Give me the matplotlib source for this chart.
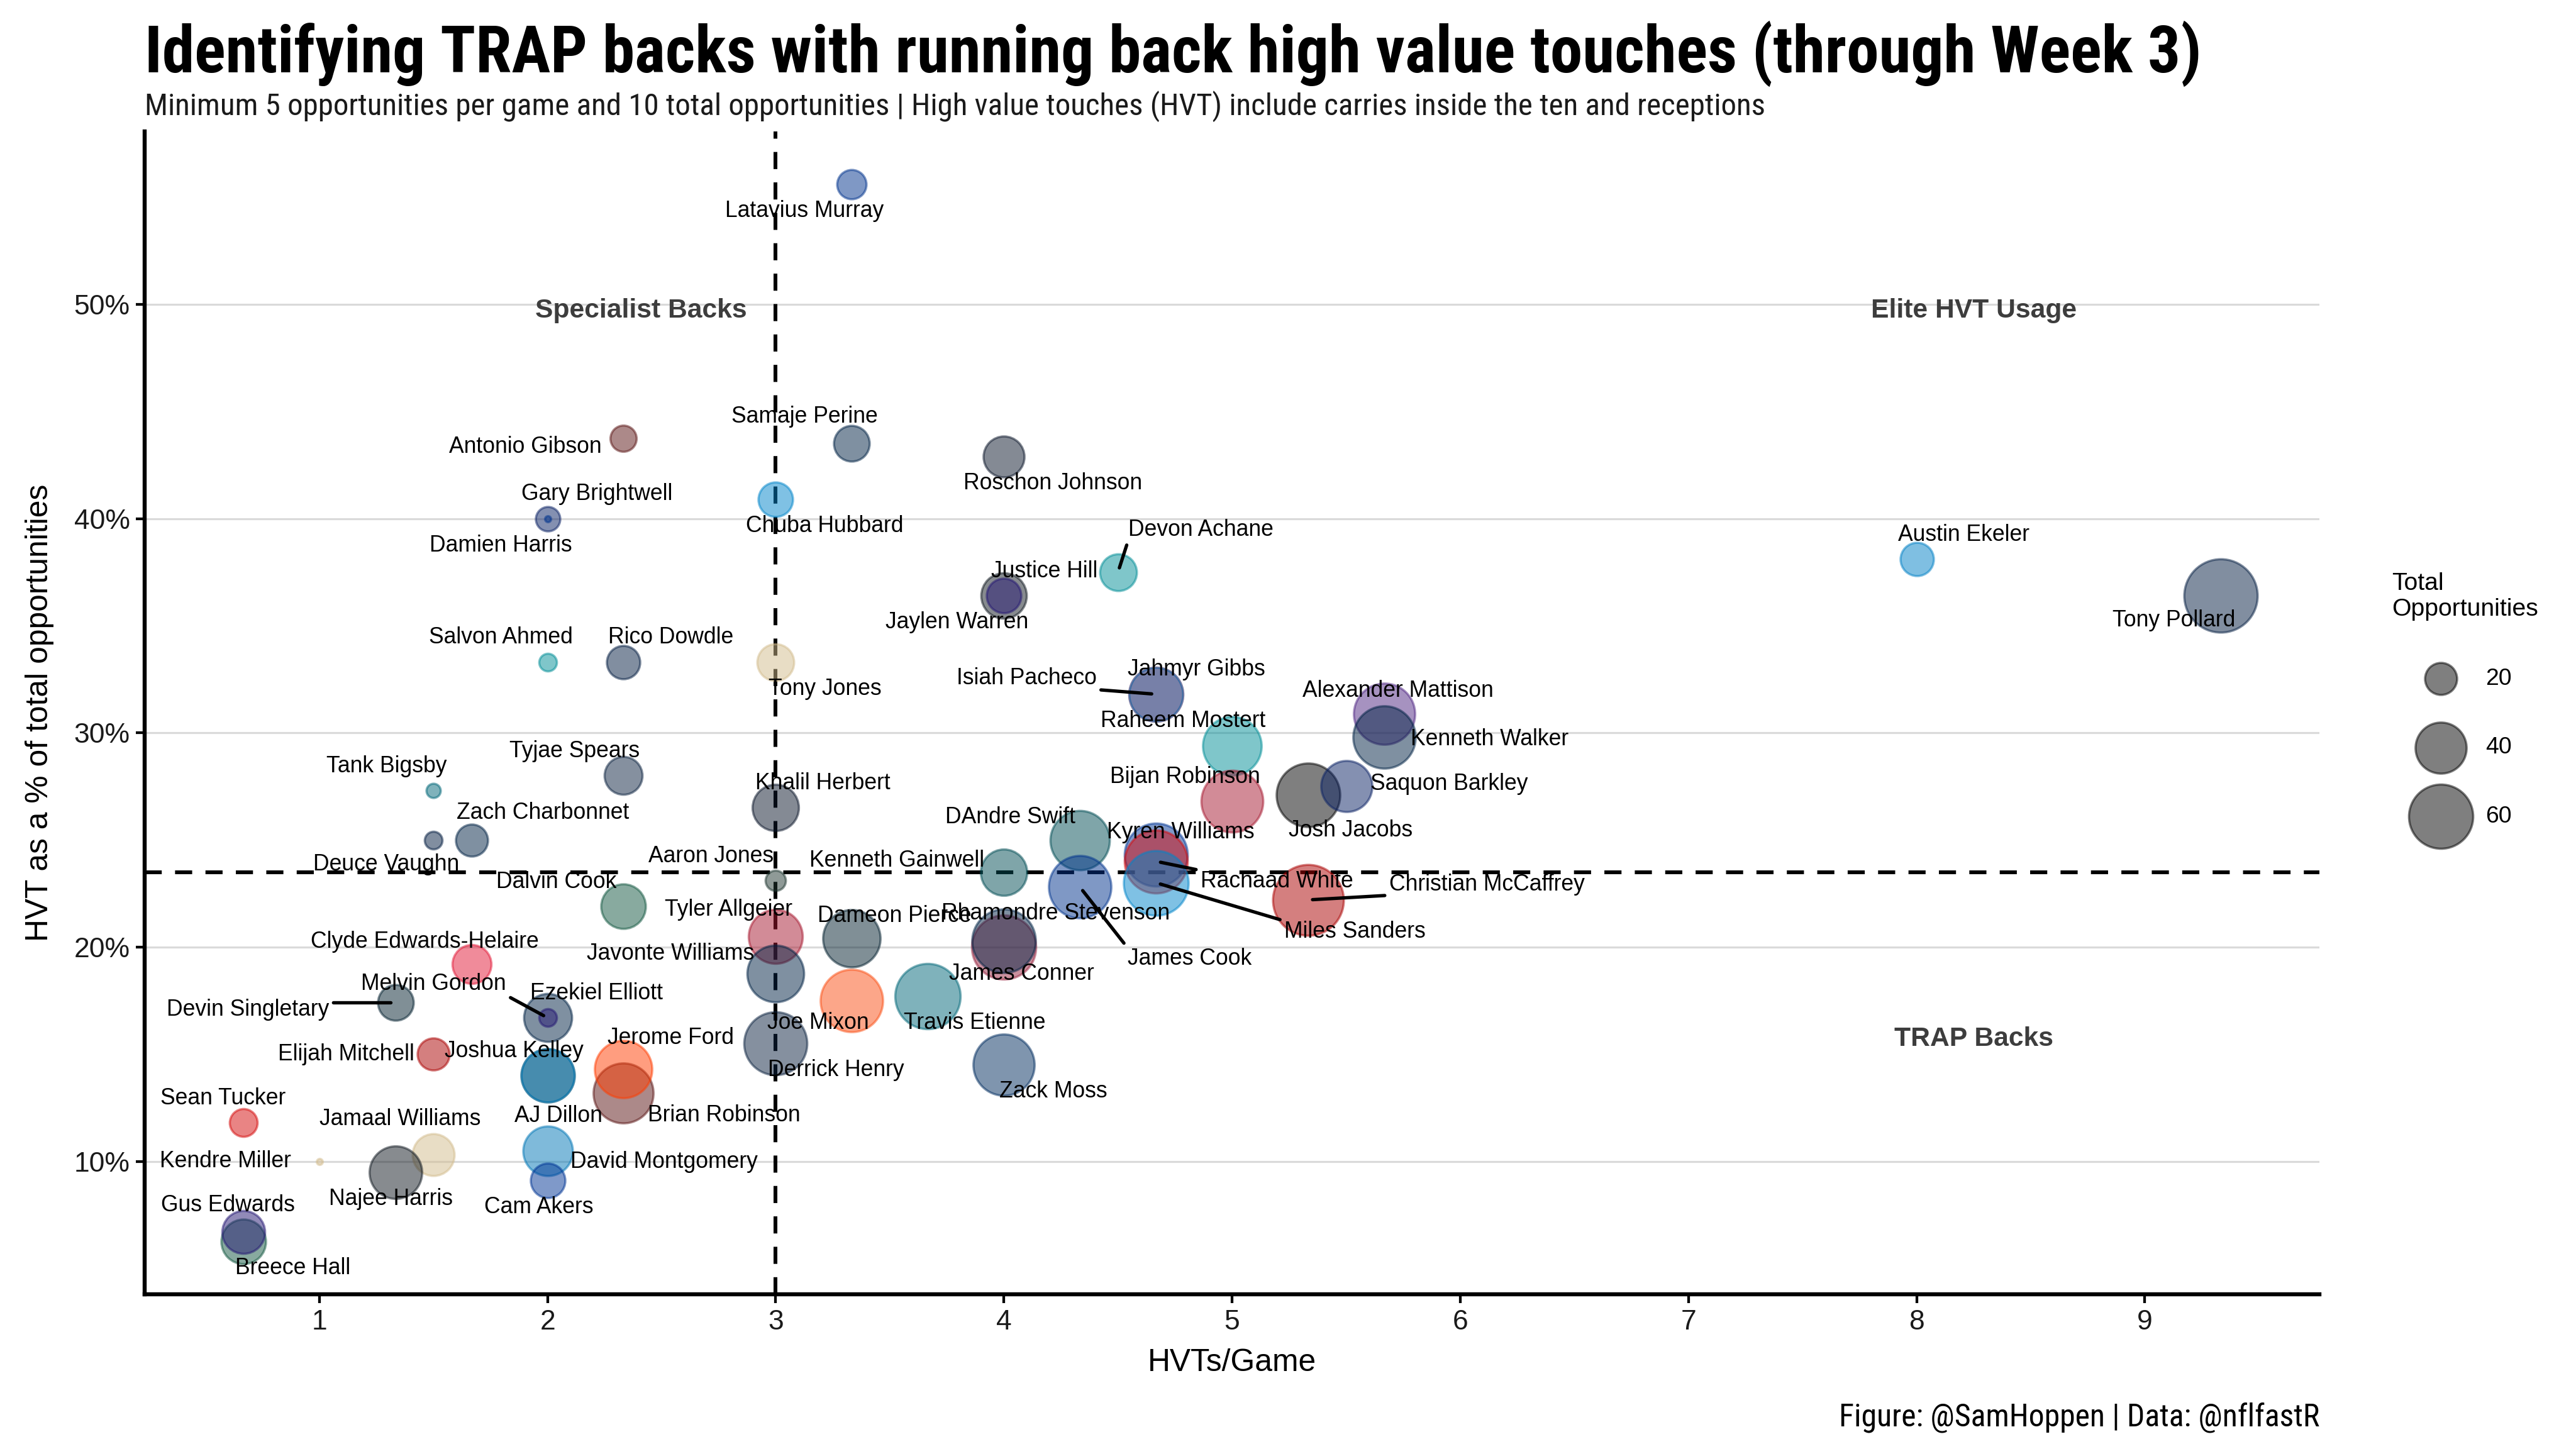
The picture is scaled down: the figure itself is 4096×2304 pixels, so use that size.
# Scatter of running back high value touches (HVT) through week 3
import numpy as np
import matplotlib.pyplot as plt
from matplotlib import font_manager
from matplotlib.text import Text
from matplotlib.ticker import FuncFormatter

# ---- data (drawing order matters for overlapping points) ----
players = [
    "Latavius Murray", "Antonio Gibson", "Samaje Perine", "Roschon Johnson",
    "Gary Brightwell", "Damien Harris", "Chuba Hubbard", "Devon Achane",
    "Jaylen Warren", "Justice Hill", "Austin Ekeler", "Tony Pollard",
    "Salvon Ahmed", "Rico Dowdle", "Tony Jones", "Isiah Pacheco",
    "Jahmyr Gibbs", "Raheem Mostert", "Alexander Mattison", "Kenneth Walker",
    "Josh Jacobs", "Saquon Barkley", "Bijan Robinson", "Tank Bigsby",
    "Tyjae Spears", "Khalil Herbert", "Zach Charbonnet", "Deuce Vaughn",
    "Aaron Jones", "Kenneth Gainwell", "DAndre Swift", "James Cook",
    "Kyren Williams", "Rachaad White", "Miles Sanders", "Christian McCaffrey",
    "Dalvin Cook", "Tyler Allgeier", "Javonte Williams", "Dameon Pierce",
    "James Conner", "Rhamondre Stevenson", "Joe Mixon", "Travis Etienne",
    "Derrick Henry", "Zack Moss", "Clyde Edwards-Helaire", "Devin Singletary",
    "Ezekiel Elliott", "Melvin Gordon", "Elijah Mitchell", "AJ Dillon",
    "Joshua Kelley", "Brian Robinson", "Jerome Ford", "Sean Tucker",
    "Kendre Miller", "Jamaal Williams", "Najee Harris", "David Montgomery",
    "Cam Akers", "Breece Hall", "Gus Edwards",
]
hvt_per_game = [
    3.333, 2.333, 3.333, 4.0,
    2.0, 2.0, 3.0, 4.5,
    4.0, 4.0, 8.0, 9.333,
    2.0, 2.333, 3.0, 4.667,
    4.667, 5.0, 5.667, 5.667,
    5.333, 5.5, 5.0, 1.5,
    2.333, 3.0, 1.667, 1.5,
    3.0, 4.0, 4.333, 4.333,
    4.667, 4.667, 4.667, 5.333,
    2.333, 3.0, 3.0, 3.333,
    4.0, 4.0, 3.333, 3.667,
    3.0, 4.0, 1.667, 1.333,
    2.0, 2.0, 1.5, 2.0,
    2.0, 2.333, 2.333, 0.667,
    1.0, 1.5, 1.333, 2.0,
    2.0, 0.667, 0.667,
]
hvt_pct = [
    0.556, 0.4375, 0.435, 0.429,
    0.400, 0.400, 0.409, 0.375,
    0.364, 0.364, 0.381, 0.364,
    0.333, 0.333, 0.333, 0.318,
    0.318, 0.294, 0.309, 0.298,
    0.271, 0.275, 0.268, 0.273,
    0.280, 0.265, 0.250, 0.250,
    0.231, 0.235, 0.250, 0.228,
    0.243, 0.240, 0.230, 0.222,
    0.219, 0.205, 0.1875, 0.204,
    0.200, 0.203, 0.175, 0.177,
    0.155, 0.145, 0.192, 0.174,
    0.167, 0.167, 0.150, 0.140,
    0.140, 0.132, 0.143, 0.118,
    0.100, 0.103, 0.095, 0.105,
    0.091, 0.0625, 0.067,
]
total_opps = [
    18, 16, 23, 28,
    15, 10, 22, 24,
    33, 22, 21, 77,
    12, 21, 24, 44,
    44, 51, 55, 57,
    59, 40, 56, 11,
    25, 34, 20, 12,
    13, 34, 52, 57,
    58, 58, 61, 72,
    32, 44, 48, 49,
    60, 59, 57, 62,
    58, 55, 26, 23,
    36, 12, 20, 43,
    43, 53, 49, 17,
    10, 29, 42, 38,
    22, 32, 30,
]
teams = [
    "BUF", "WAS", "DEN", "CHI",
    "NYG", "BUF", "CAR", "MIA",
    "PIT", "BAL", "LAC", "DAL",
    "MIA", "DAL", "NO", "KC",
    "DET", "MIA", "MIN", "SEA",
    "LV", "NYG", "ATL", "JAX",
    "TEN", "CHI", "SEA", "DAL",
    "GB", "PHI", "PHI", "BUF",
    "LA", "TB", "CAR", "SF",
    "NYJ", "ATL", "DEN", "HOU",
    "ARI", "NE", "CIN", "JAX",
    "TEN", "IND", "KC", "HOU",
    "NE", "BAL", "SF", "GB",
    "LAC", "WAS", "CLE", "TB",
    "NO", "NO", "PIT", "DET",
    "LA", "NYJ", "BAL",
]
team_colors = {
    "ARI": "#97233F", "ATL": "#A71930", "BAL": "#241773", "BUF": "#00338D",
    "CAR": "#0085CA", "CHI": "#0B162A", "CIN": "#FB4F14", "CLE": "#FF3C00",
    "DAL": "#041E42", "DEN": "#002244", "DET": "#0076B6", "GB": "#203731",
    "HOU": "#03202F", "IND": "#002C5F", "JAX": "#006778", "KC": "#E31837",
    "LA": "#003594", "LAC": "#0080C6", "LV": "#000000", "MIA": "#008E97",
    "MIN": "#4F2683", "NE": "#002244", "NO": "#D3BC8D", "NYG": "#0B2265",
    "NYJ": "#125740", "PHI": "#004C54", "PIT": "#101820", "SEA": "#002244",
    "SF": "#AA0000", "TB": "#D50A0A", "TEN": "#0C2340", "WAS": "#5A1414",
}
legend_opps = [20, 40, 60]
hvt_pg_cut = 3.0
hvt_pct_cut = 0.235

# ---- label layout: offset from the point in points, and leader segment flag ----
label_offsets = {
    "Latavius Murray": (-21, -12), "Antonio Gibson": (-44, -4), "Samaje Perine": (-21, 12),
    "Roschon Johnson": (22, -12), "Gary Brightwell": (22, 11), "Damien Harris": (-21, -12),
    "Chuba Hubbard": (22, -12), "Devon Achane": (37, 19), "Justice Hill": (18, 11),
    "Jaylen Warren": (-21, -12), "Austin Ekeler": (21, 11), "Tony Pollard": (-21, -11),
    "Salvon Ahmed": (-21, 11), "Rico Dowdle": (21, 11), "Tony Jones": (22, -12),
    "Isiah Pacheco": (-58, 7), "Jahmyr Gibbs": (18, 11), "Raheem Mostert": (-22, 11),
    "Alexander Mattison": (6, 10), "Kenneth Walker": (47, -1), "Saquon Barkley": (46, 1),
    "Josh Jacobs": (19, -16), "Bijan Robinson": (-21, 11), "Tank Bigsby": (-21, 11),
    "Tyjae Spears": (-22, 11), "Khalil Herbert": (21, 11), "Zach Charbonnet": (32, 12),
    "Deuce Vaughn": (-21, -11), "Aaron Jones": (-29, 11), "Kenneth Gainwell": (-48, 5),
    "DAndre Swift": (-31, 10), "James Cook": (49, -32), "Kyren Williams": (11, 10),
    "Rachaad White": (54, -9), "Miles Sanders": (89, -22), "Christian McCaffrey": (80, 7),
    "Dalvin Cook": (-30, 11), "Tyler Allgeier": (-21, 12), "Javonte Williams": (-47, 9),
    "Dameon Pierce": (19, 10), "James Conner": (8, -12), "Rhamondre Stevenson": (23, 12),
    "Joe Mixon": (-15, -10), "Travis Etienne": (21, -12), "Derrick Henry": (27, -12),
    "Zack Moss": (22, -12), "Clyde Edwards-Helaire": (-21, 10), "Devin Singletary": (-66, -3),
    "Ezekiel Elliott": (22, 11), "Melvin Gordon": (-51, 15), "Elijah Mitchell": (-39, 0),
    "AJ Dillon": (5, -18), "Joshua Kelley": (-15, 11), "Brian Robinson": (45, -10),
    "Jerome Ford": (21, 14), "Sean Tucker": (-9, 11), "Kendre Miller": (-42, 0),
    "Jamaal Williams": (-15, 16), "Najee Harris": (-2, -12), "David Montgomery": (52, -5),
    "Cam Akers": (-4, -12), "Breece Hall": (22, -12), "Gus Edwards": (-7, 12),
}
with_segment = {"Devon Achane", "Isiah Pacheco", "James Cook", "Rachaad White",
                "Miles Sanders", "Christian McCaffrey", "Devin Singletary", "Melvin Gordon"}


def pick_font(names):
    for n in names:
        try:
            font_manager.findfont(font_manager.FontProperties(family=n), fallback_to_default=False)
            return n
        except Exception:
            pass
    return "DejaVu Sans"


body_font = pick_font(["Liberation Sans", "Arial", "DejaVu Sans"])
cond_font = pick_font(["Liberation Sans Narrow", "Roboto Condensed", "Liberation Sans"])
plt.rcParams["font.family"] = [body_font, "DejaVu Sans"]

# ggplot-like area scale: diameter grows with sqrt of the rescaled value
o_min, o_max = min(total_opps), max(total_opps)
d_min, d_max = 3.7, 33.8   # visible diameters in points
edge_lw = 1.0


def marker_area(v):
    v = np.asarray(v, dtype=float)
    d = d_min + (d_max - d_min) * np.sqrt((v - o_min) / (o_max - o_min))
    return np.clip(d - edge_lw, 1.0, None) ** 2


fig = plt.figure(figsize=(16, 9), dpi=256)
ax = fig.add_axes([0.0561, 0.1066, 0.8444, 0.8027])

x = np.array(hvt_per_game)
y = np.array(hvt_pct)
cols = [team_colors[t] for t in teams]

# reference lines under the points
ax.axvline(hvt_pg_cut, color="black", lw=1.7, ls=(0, (4.5, 3.5)), zorder=1)
ax.axhline(hvt_pct_cut, color="black", lw=1.7, ls=(0, (4.5, 3.5)), zorder=1)

for xi, yi, c, v in zip(x, y, cols, total_opps):
    ax.scatter(xi, yi, s=marker_area(v), color=c, alpha=0.5, edgecolors=c,
               linewidths=edge_lw, zorder=3)

anns = {}
for name, xi, yi in zip(players, x, y):
    dx, dy = label_offsets[name]
    kw = {}
    if name in with_segment:
        kw["arrowprops"] = dict(arrowstyle="-", color="black", lw=1.5,
                                shrinkA=0, shrinkB=2)
    anns[name] = ax.annotate(name, xy=(xi, yi), xytext=(dx, dy), textcoords="offset points",
                             ha="center", va="center", fontsize=10, color="black",
                             zorder=5, **kw)

# quadrant tags
quad_style = dict(fontsize=12, fontweight="bold", color="#3d3d3d", ha="center", va="center")
ax.text(2.41, 0.497, "Specialist Backs", **quad_style)
ax.text(8.25, 0.497, "Elite HVT Usage", **quad_style)
ax.text(8.25, 0.157, "TRAP Backs", **quad_style)

# limits with 5% expansion like ggplot
xr = x.max() - x.min()
yr = y.max() - y.min()
ax.set_xlim(x.min() - 0.05 * xr, x.max() + 0.05 * xr)
ax.set_ylim(y.min() - 0.05 * yr, y.max() + 0.05 * yr)

ax.set_xticks(range(1, 10))
ax.set_yticks([0.1, 0.2, 0.3, 0.4, 0.5])
ax.yaxis.set_major_formatter(FuncFormatter(lambda v, p: f"{v * 100:.0f}%"))
ax.grid(axis="y", color="#dadada", lw=0.9, zorder=0)
ax.set_axisbelow(True)
for s in ["top", "right"]:
    ax.spines[s].set_visible(False)
for s in ["left", "bottom"]:
    ax.spines[s].set_linewidth(1.8)
    ax.spines[s].set_color("black")
ax.tick_params(length=4, width=1.2, color="black", labelsize=12.5, pad=2.5, labelcolor="#1a1a1a")
ax.set_xlabel("HVTs/Game", fontsize=14, labelpad=6)
ax.set_ylabel("HVT as a % of total opportunities", fontsize=14, labelpad=9)

# size legend
handles = [ax.scatter([], [], s=marker_area(v), color="black", alpha=0.5,
                      edgecolors="black", linewidths=edge_lw) for v in legend_opps]
leg = fig.legend(handles, [str(v) for v in legend_opps], title="Total\nOpportunities",
                 loc="center left", bbox_to_anchor=(0.922, 0.517), frameon=False,
                 fontsize=10.5, title_fontsize=11, labelspacing=2.0,
                 handletextpad=0.9, borderpad=0.2)
leg._legend_box.align = "center"

# titles
title = fig.text(0.0561, 0.950, "Identifying TRAP backs with running back high value touches (through Week 3)",
                 fontsize=30, fontweight="bold", family=[cond_font, "DejaVu Sans"], va="baseline")
subtitle = fig.text(0.0561, 0.9206,
                    "Minimum 5 opportunities per game and 10 total opportunities | "
                    "High value touches (HVT) include carries inside the ten and receptions",
                    fontsize=12, family=[cond_font, "DejaVu Sans"], va="baseline", color="#1a1a1a")
caption = fig.text(0.9005, 0.016, "Figure: @SamHoppen | Data: @nflfastR", fontsize=12,
                   family=[cond_font, "DejaVu Sans"], ha="right", va="baseline")

# scale the condensed texts to the widths seen in the original
fig.canvas.draw()
for t, target in [(title, 3270), (subtitle, 2573), (caption, 763)]:
    w = t.get_window_extent().width
    t.set_fontsize(t.get_fontsize() * target / w)

# leader segments end on the label box side nearest to the point (ggrepel style)
renderer = fig.canvas.get_renderer()
for name in with_segment:
    ann = anns[name]
    bb = Text.get_window_extent(ann, renderer)
    px, py = ax.transData.transform(ann.xy)
    rx = float(np.clip((px - bb.x0) / bb.width, 0, 1))
    ry = float(np.clip((py - bb.y0) / bb.height, 0, 1))
    ann._arrow_relpos = (rx, ry)

fig.savefig("out.png", dpi=256)
plt.close(fig)
